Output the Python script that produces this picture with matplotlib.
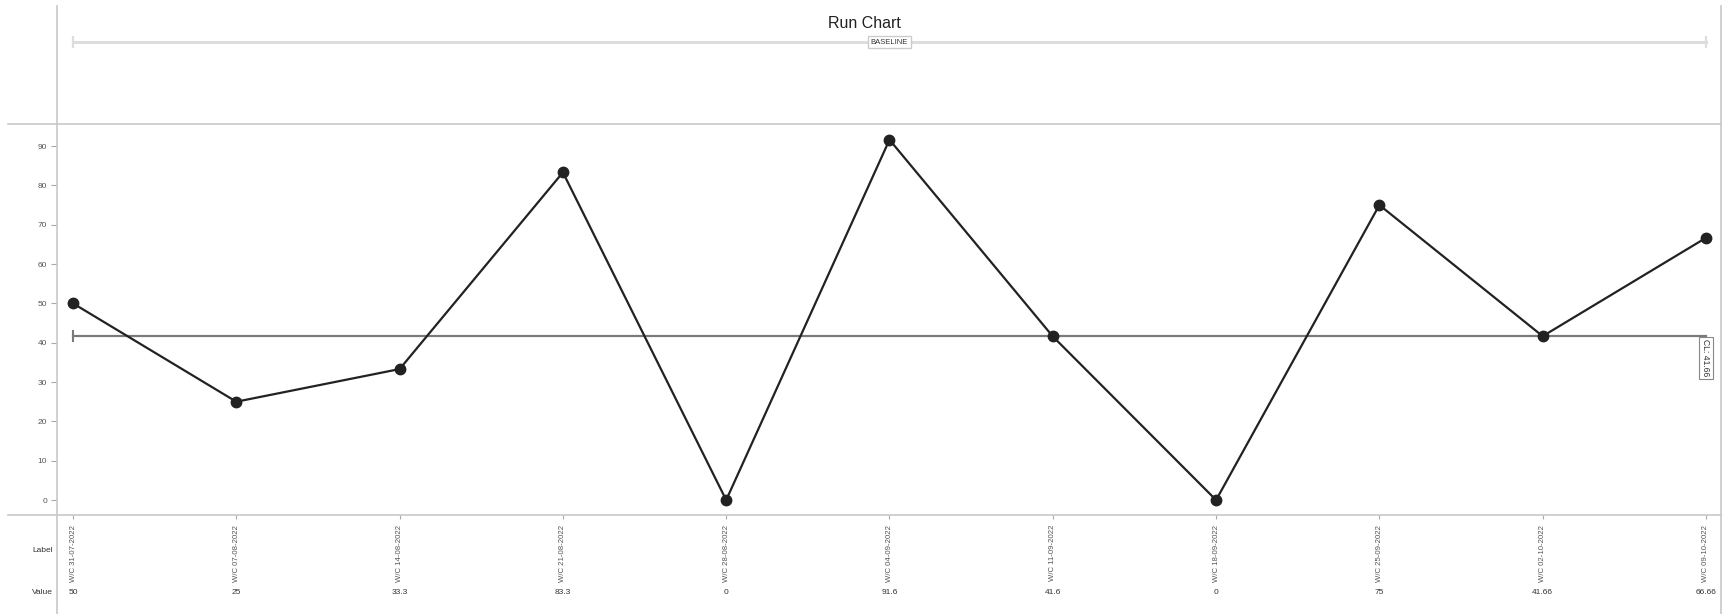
import matplotlib
matplotlib.use("Agg")
import matplotlib.pyplot as plt
from matplotlib.lines import Line2D
from matplotlib.transforms import blended_transform_factory

plt.rcParams['font.family'] = ['Liberation Sans', 'DejaVu Sans']

labels = ["W/C 31-07-2022", "W/C 07-08-2022", "W/C 14-08-2022", "W/C 21-08-2022",
          "W/C 28-08-2022", "W/C 04-09-2022", "W/C 11-09-2022", "W/C 18-09-2022",
          "W/C 25-09-2022", "W/C 02-10-2022", "W/C 09-10-2022"]
values = [50, 25, 33.3, 83.3, 0, 91.6, 41.6, 0, 75, 41.66, 66.66]
value_text = ["50", "25", "33.3", "83.3", "0", "91.6", "41.6", "0", "75", "41.66", "66.66"]
center_line = 41.66
yticks = [0, 10, 20, 30, 40, 50, 60, 70, 80, 90]

W, H = 1729, 614
fig = plt.figure(figsize=(W / 100, H / 100), dpi=100)

def fx(px):
    return px / W

def fy(py):
    return 1 - py / H

# main axes: x 57..1721, y 124..515
ax = fig.add_axes([fx(57), fy(515), fx(1721) - fx(57), fy(124) - fy(515)])
n = len(values)
x = list(range(n))
ax.set_xlim(-0.098, (n - 1) + 0.092)
ax.set_ylim(-3.8, 95.6)

for s in ax.spines.values():
    s.set_visible(False)

grey = '#c8c8c8'
# figure-level frame lines
fig.add_artist(Line2D([fx(57), fx(57)], [fy(6), fy(614)], color=grey, lw=1.2))
fig.add_artist(Line2D([fx(1721), fx(1721)], [fy(6), fy(614)], color=grey, lw=1.2))
fig.add_artist(Line2D([fx(8), fx(1721)], [fy(124), fy(124)], color=grey, lw=1.2))
fig.add_artist(Line2D([fx(8), fx(1721)], [fy(515), fy(515)], color=grey, lw=1.2))

# y ticks
ax.set_yticks(yticks)
ax.set_yticklabels([str(v) for v in yticks])
ax.tick_params(axis='y', length=4, width=0.8, color='#aaaaaa', labelsize=6,
               labelcolor='#555555', pad=3)

# x ticks
ax.set_xticks(x)
ax.set_xticklabels(labels, rotation=90, va='top', ha='center')
ax.tick_params(axis='x', length=3, width=0.8, color='#aaaaaa', labelsize=5.6,
               labelcolor='#555555', pad=4)

# center line
ax.plot([0, n - 1], [center_line, center_line], color='#7a7a7a', lw=1.6, zorder=2)
ax.plot([0], [center_line], marker='|', markersize=8, color='#7a7a7a', mew=1.5, zorder=2)
ax.text(n - 1, center_line - 0.8, "CL: 41.66", rotation=-90, ha='center', va='top',
        fontsize=6.2, color='#333333', zorder=5,
        bbox=dict(boxstyle='square,pad=0.25', fc='white', ec='#888888', lw=0.8))

# run line
ax.plot(x, values, color='#222222', lw=1.6, marker='o', markersize=7.5,
        markerfacecolor='#222222', markeredgecolor='#222222', zorder=4, clip_on=False)

# values row
tr = blended_transform_factory(ax.transData, fig.transFigure)
for xi, vt in zip(x, value_text):
    ax.text(xi, fy(592), vt, transform=tr, ha='center', va='center', fontsize=6,
            color='#333333')
fig.text(fx(53), fy(550), "Label", ha='right', va='center', fontsize=6, color='#333333')
fig.text(fx(53), fy(592), "Value", ha='right', va='center', fontsize=6, color='#333333')

# title
fig.text(0.5, fy(24), "Run Chart", ha='center', va='center',
         fontsize=11.5, color='#222222')

# baseline bracket
fig.add_artist(Line2D([fx(73), fx(1706)], [fy(42), fy(42)], color='#dddddd', lw=2.2))
fig.add_artist(Line2D([fx(73), fx(73)], [fy(37), fy(47)], color='#dddddd', lw=1.6))
fig.add_artist(Line2D([fx(1706), fx(1706)], [fy(37), fy(47)], color='#dddddd', lw=1.6))
fig.text((fx(73) + fx(1706)) / 2, fy(42), "BASELINE", ha='center', va='center',
         fontsize=5.5, color='#333333',
         bbox=dict(boxstyle='square,pad=0.35', fc='white', ec='#cccccc', lw=1.0))

fig.savefig("out.png", dpi=100, facecolor='white')
